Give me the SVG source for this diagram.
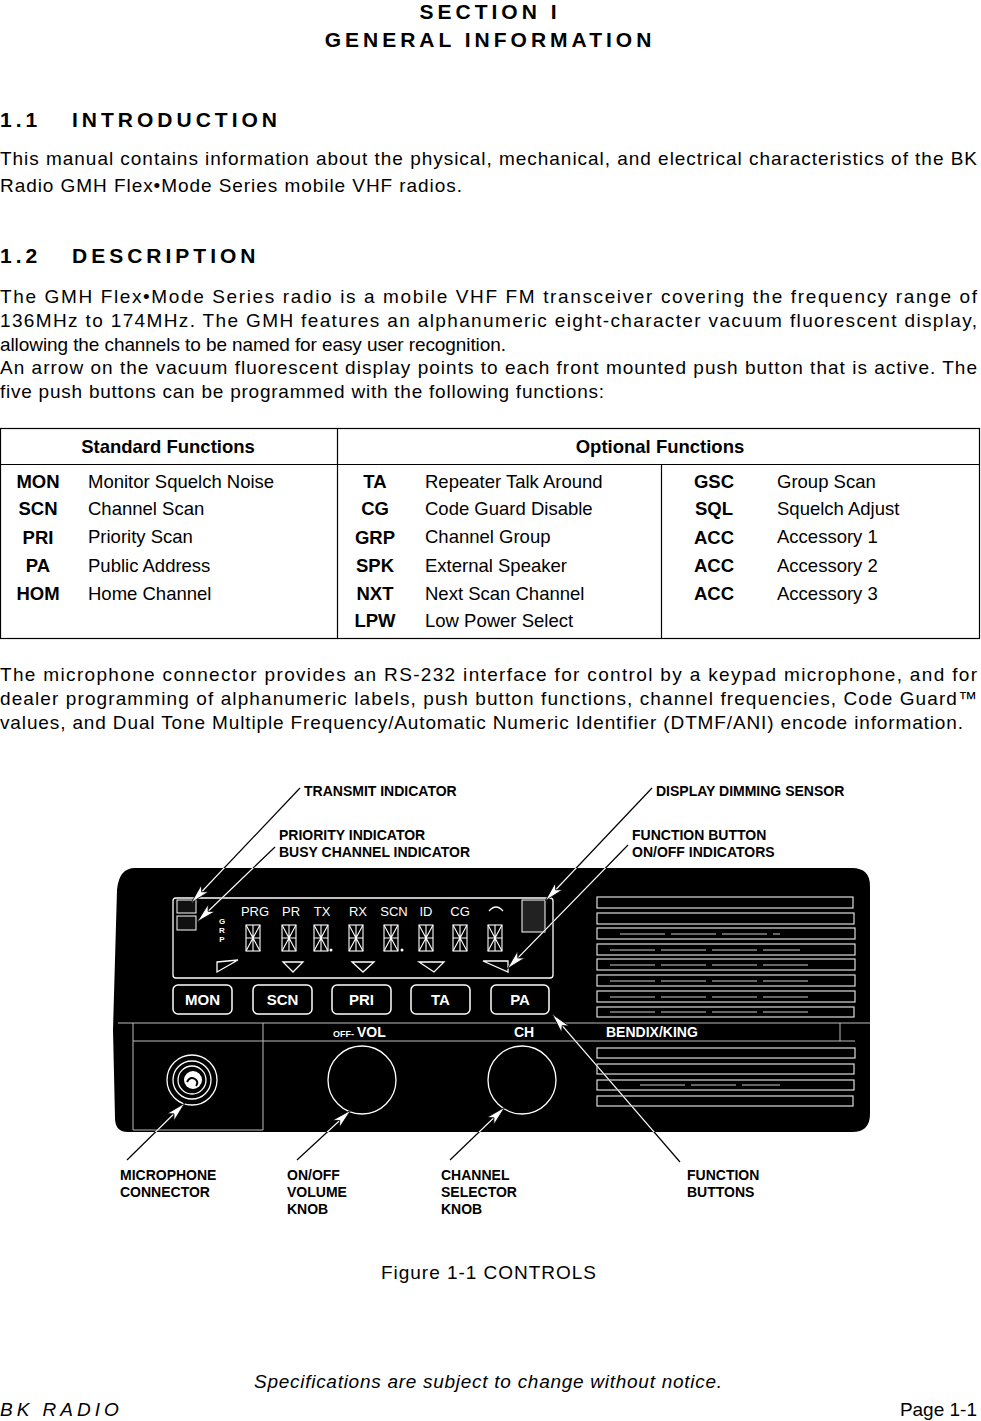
<svg xmlns="http://www.w3.org/2000/svg" xmlns:xlink="http://www.w3.org/1999/xlink" width="981" height="1421" viewBox="0 0 981 1421">
<style>
text{font-family:"Liberation Sans",Arial,sans-serif;fill:#000}
.h{font-size:21px;font-weight:bold;letter-spacing:4px}
.b{font-size:19px}
.t{font-size:18.5px}
.tb{font-size:18.5px;font-weight:bold}
.c{font-size:14px;font-weight:bold}
.w{fill:#fff}
.wl{fill:none;stroke:#fff;stroke-width:1.3}
.cl{stroke:#000;stroke-width:1.2;fill:none}
.cw{stroke:#fff;stroke-width:1.2;fill:none}
.sl{fill:#000;stroke:#ddd;stroke-width:1.2}
.btn{fill:#000;stroke:#fff;stroke-width:1.5}
.bt{font-size:15px;font-weight:bold;fill:#fff}
.lab{font-size:13px;fill:#fff}
</style>
<defs>
<marker id="ar" viewBox="0 0 20 12" refX="19" refY="6" markerWidth="20" markerHeight="12" markerUnits="userSpaceOnUse" orient="auto">
<path d="M0,1 L20,6 L0,11 L5,6 Z" fill="#fff" stroke="#000" stroke-width="0.8"/>
</marker>
<g id="dg" fill="none" stroke="#fff" stroke-width="1.1">
<rect x="-7" y="0" width="14" height="26"/>
<path d="M-7,13 H7 M0,0 V26 M-7,0 L0,13 L7,0 M-7,26 L0,13 L7,26"/>
</g>
<path id="body" d="M135,868 H852 Q870,868 870,886 V1114 Q870,1132 852,1132 H128 Q115,1132 115,1118 L113,1030 L117,890 Q119,868 135,868 Z"/>
<clipPath id="bc"><use xlink:href="#body"/></clipPath>
<g id="lines">
<path d="M300,788 L192,902"/>
<path d="M275,847 L198,921"/>
<path d="M652,788 L546,900"/>
<path d="M628,845 L508,968"/>
<path d="M127,1160 L184,1104"/>
<path d="M297,1160 L350,1111"/>
<path d="M450,1160 L504,1108"/>
<path d="M680,1162 L553,1015"/>
</g>
</defs>
<rect width="981" height="1421" fill="#fff"/>
<text class="h" x="490" y="19" text-anchor="middle">SECTION I</text>
<text class="h" x="490" y="47" text-anchor="middle">GENERAL INFORMATION</text>
<text class="h" x="0" y="127">1.1</text><text class="h" x="72" y="127">INTRODUCTION</text>
<text class="b" x="0" y="165" textLength="977" lengthAdjust="spacing">This manual contains information about the physical, mechanical, and electrical characteristics of the BK</text>
<text class="b" x="0" y="192" textLength="462" lengthAdjust="spacing">Radio GMH Flex•Mode Series mobile VHF radios.</text>
<text class="h" x="0" y="263">1.2</text><text class="h" x="72" y="263">DESCRIPTION</text>
<text class="b" x="0" y="303" textLength="977" lengthAdjust="spacing">The GMH Flex•Mode Series radio is a mobile VHF FM transceiver covering the frequency range of</text>
<text class="b" x="0" y="327" textLength="977" lengthAdjust="spacing">136MHz to 174MHz.  The GMH features an alphanumeric eight-character vacuum fluorescent display,</text>
<text class="b" x="0" y="351" textLength="506" lengthAdjust="spacing">allowing the channels to be named for easy user recognition.</text>
<text class="b" x="0" y="374" textLength="977" lengthAdjust="spacing">An arrow on the vacuum fluorescent display points to each front mounted push button that is active. The</text>
<text class="b" x="0" y="398" textLength="604" lengthAdjust="spacing">five push buttons can be programmed with the following functions:</text>
<g id="table">
<rect x="0.5" y="428.5" width="979" height="210" fill="none" stroke="#000" stroke-width="1.2"/>
<path d="M0,464.5 H980 M337.5,428 V638 M661.5,464 V638" stroke="#000" stroke-width="1.2"/>
<text class="tb" x="168" y="453" text-anchor="middle">Standard Functions</text>
<text class="tb" x="660" y="453" text-anchor="middle">Optional Functions</text>
<g text-anchor="middle">
<text class="tb" x="38" y="488">MON</text><text class="tb" x="38" y="515">SCN</text><text class="tb" x="38" y="544">PRI</text><text class="tb" x="38" y="572">PA</text><text class="tb" x="38" y="600">HOM</text>
<text class="tb" x="375" y="488">TA</text><text class="tb" x="375" y="515">CG</text><text class="tb" x="375" y="544">GRP</text><text class="tb" x="375" y="572">SPK</text><text class="tb" x="375" y="600">NXT</text><text class="tb" x="375" y="627">LPW</text>
<text class="tb" x="714" y="488">GSC</text><text class="tb" x="714" y="515">SQL</text><text class="tb" x="714" y="544">ACC</text><text class="tb" x="714" y="572">ACC</text><text class="tb" x="714" y="600">ACC</text>
</g>
<text class="t" x="88" y="488">Monitor Squelch Noise</text><text class="t" x="88" y="515">Channel Scan</text><text class="t" x="88" y="543">Priority Scan</text><text class="t" x="88" y="572">Public Address</text><text class="t" x="88" y="600">Home Channel</text>
<text class="t" x="425" y="488">Repeater Talk Around</text><text class="t" x="425" y="515">Code Guard Disable</text><text class="t" x="425" y="543">Channel Group</text><text class="t" x="425" y="572">External Speaker</text><text class="t" x="425" y="600">Next Scan Channel</text><text class="t" x="425" y="627">Low Power Select</text>
<text class="t" x="777" y="488">Group Scan</text><text class="t" x="777" y="515">Squelch Adjust</text><text class="t" x="777" y="543">Accessory 1</text><text class="t" x="777" y="572">Accessory 2</text><text class="t" x="777" y="600">Accessory 3</text>
</g>
<text class="b" x="0" y="681" textLength="977" lengthAdjust="spacing">The microphone connector provides an RS-232 interface for control by a keypad microphone, and for</text>
<text class="b" x="0" y="705" textLength="977" lengthAdjust="spacing">dealer programming of alphanumeric labels, push button functions, channel frequencies, Code Guard™</text>
<text class="b" x="0" y="729" textLength="963" lengthAdjust="spacing">values, and Dual Tone Multiple Frequency/Automatic Numeric Identifier (DTMF/ANI) encode information.</text>

<g id="radio">
<use xlink:href="#body" fill="#000"/>
<rect x="173" y="898" width="380" height="80" rx="3" class="wl"/>
<rect x="177" y="900" width="19" height="13" fill="#111" stroke="#fff" stroke-width="1"/>
<rect x="177" y="916" width="19" height="14" fill="#111" stroke="#fff" stroke-width="1"/>
<rect x="522" y="900" width="23" height="32" fill="#222" stroke="#fff" stroke-width="1"/>
<text class="w" x="222" y="924" font-size="8" font-weight="bold" text-anchor="middle">G</text>
<text class="w" x="222" y="933" font-size="8" font-weight="bold" text-anchor="middle">R</text>
<text class="w" x="222" y="942" font-size="8" font-weight="bold" text-anchor="middle">P</text>
<text class="lab" x="255" y="916" text-anchor="middle">PRG</text>
<text class="lab" x="291" y="916" text-anchor="middle">PR</text>
<text class="lab" x="322" y="916" text-anchor="middle">TX</text>
<text class="lab" x="358" y="916" text-anchor="middle">RX</text>
<text class="lab" x="394" y="916" text-anchor="middle">SCN</text>
<text class="lab" x="426" y="916" text-anchor="middle">ID</text>
<text class="lab" x="460" y="916" text-anchor="middle">CG</text>
<path d="M489,911 Q496,903 503,911" class="wl" stroke-width="2"/>
<use xlink:href="#dg" x="253" y="925"/><use xlink:href="#dg" x="289" y="925"/><use xlink:href="#dg" x="321" y="925"/><use xlink:href="#dg" x="356" y="925"/>
<use xlink:href="#dg" x="391" y="925"/><use xlink:href="#dg" x="426" y="925"/><use xlink:href="#dg" x="460" y="925"/><use xlink:href="#dg" x="495" y="925"/>
<circle cx="331" cy="950" r="1.5" fill="#fff"/><circle cx="402" cy="950" r="1.5" fill="#fff"/>
<path d="M217,962 L238,960 L217,972 Z M283,962 H303 L293,972 Z M352,962 H374 L363,972 Z M419,962 H444 L434,972 Z M483,961 L508,972 V961 Z" class="wl"/>
<g id="buttons">
<rect x="173" y="985" width="59" height="29" rx="5" class="btn"/><text class="bt" x="202.5" y="1005" text-anchor="middle">MON</text>
<rect x="253" y="985" width="59" height="29" rx="5" class="btn"/><text class="bt" x="282.5" y="1005" text-anchor="middle">SCN</text>
<rect x="332" y="985" width="59" height="29" rx="5" class="btn"/><text class="bt" x="361.5" y="1005" text-anchor="middle">PRI</text>
<rect x="411" y="985" width="59" height="29" rx="5" class="btn"/><text class="bt" x="440.5" y="1005" text-anchor="middle">TA</text>
<rect x="491" y="985" width="58" height="29" rx="5" class="btn"/><text class="bt" x="520" y="1005" text-anchor="middle">PA</text>
</g>
<path d="M118,1023 H870 M133,1041 H855 M133,1023 V1130 M263,1023 V1130 M133,1130 H263 M840,1023 V1041" stroke="#bbb" stroke-width="1"/>
<text class="w" x="333" y="1037" font-size="9" font-weight="bold">OFF-</text><text class="w" x="357" y="1037" font-size="14" font-weight="bold">VOL</text>
<text class="w" x="514" y="1037" font-size="14" font-weight="bold">CH</text>
<text class="w" x="606" y="1037" font-size="14" font-weight="bold">BENDIX/KING</text>
<circle cx="192" cy="1080" r="25" class="wl"/><circle cx="192" cy="1080" r="19" class="wl"/><circle cx="192" cy="1080" r="14" class="wl"/>
<circle cx="193" cy="1080" r="9" fill="#fff"/><path d="M187,1082 Q190,1076 195,1079 Q199,1082 196,1086" stroke="#000" stroke-width="2" fill="none"/>
<circle cx="362" cy="1080" r="34" class="wl" stroke-width="1.8"/>
<circle cx="522" cy="1080" r="34" class="wl" stroke-width="1.8"/>
<g id="grille">
<rect x="597" y="897" width="256" height="11" class="sl"/><rect x="597" y="913" width="257" height="11" class="sl"/>
<rect x="597" y="928" width="258" height="11" class="sl"/><rect x="597" y="944" width="258" height="11" class="sl"/>
<rect x="597" y="959" width="258" height="11" class="sl"/><rect x="597" y="975" width="258" height="11" class="sl"/>
<rect x="597" y="991" width="258" height="11" class="sl"/><rect x="597" y="1007" width="257" height="10" class="sl"/>
<rect x="597" y="1048" width="258" height="10" class="sl"/><rect x="597" y="1064" width="257" height="10" class="sl"/>
<rect x="597" y="1080" width="257" height="10" class="sl"/><rect x="597" y="1096" width="256" height="10" class="sl"/>
<path d="M620,934 H780 M610,950 H800 M610,965 H810 M610,981 H810 M610,997 H810 M610,1012 H810 M640,1085 H780" stroke="#ccc" stroke-width="1.2" stroke-dasharray="45,6"/>
</g>
</g>
<g id="connectors">
<use xlink:href="#lines" class="cl"/>
<use xlink:href="#lines" class="cw" clip-path="url(#bc)"/>
<g fill="none" stroke="none">
<path d="M300,788 L192,902" marker-end="url(#ar)"/>
<path d="M275,847 L198,921" marker-end="url(#ar)"/>
<path d="M652,788 L546,900" marker-end="url(#ar)"/>
<path d="M628,845 L508,968" marker-end="url(#ar)"/>
<path d="M127,1160 L184,1104" marker-end="url(#ar)"/>
<path d="M297,1160 L350,1111" marker-end="url(#ar)"/>
<path d="M450,1160 L504,1108" marker-end="url(#ar)"/>
<path d="M680,1162 L553,1015" marker-end="url(#ar)"/>
</g>
</g>
<g id="callouts">
<text class="c" x="304" y="796">TRANSMIT INDICATOR</text>
<text class="c" x="279" y="840">PRIORITY INDICATOR</text><text class="c" x="279" y="857">BUSY CHANNEL INDICATOR</text>
<text class="c" x="656" y="796">DISPLAY DIMMING SENSOR</text>
<text class="c" x="632" y="840">FUNCTION BUTTON</text><text class="c" x="632" y="857">ON/OFF INDICATORS</text>
<text class="c" x="120" y="1180">MICROPHONE</text><text class="c" x="120" y="1197">CONNECTOR</text>
<text class="c" x="287" y="1180">ON/OFF</text><text class="c" x="287" y="1197">VOLUME</text><text class="c" x="287" y="1214">KNOB</text>
<text class="c" x="441" y="1180">CHANNEL</text><text class="c" x="441" y="1197">SELECTOR</text><text class="c" x="441" y="1214">KNOB</text>
<text class="c" x="687" y="1180">FUNCTION</text><text class="c" x="687" y="1197">BUTTONS</text>
</g>
<text class="b" x="381" y="1279" textLength="215" lengthAdjust="spacing">Figure 1-1 CONTROLS</text>
<text class="b" x="254" y="1388" font-style="italic" textLength="468" lengthAdjust="spacing">Specifications are subject to change without notice.</text>
<text class="b" x="0" y="1416" font-style="italic" letter-spacing="4">BK RADIO</text>
<text class="b" x="977" y="1416" text-anchor="end" font-size="20">Page 1-1</text>
</svg>
